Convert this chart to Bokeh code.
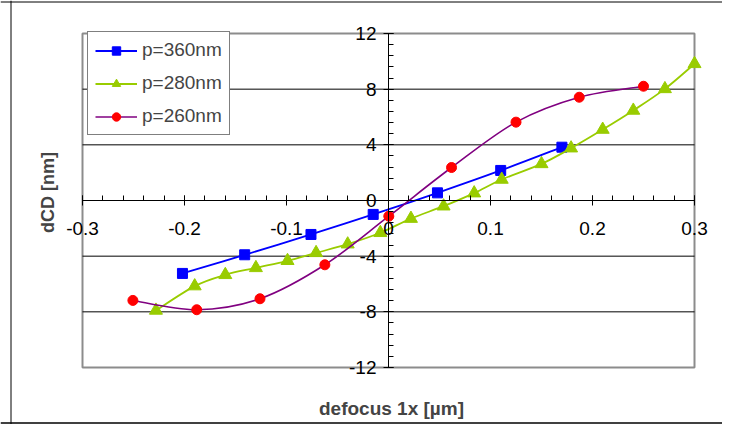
import numpy as np
from bokeh.plotting import figure
from bokeh.models import (Range1d, FixedTicker, Label, Legend, LegendItem, ColumnDataSource, Span)
from bokeh.embed import file_html
from bokeh.resources import INLINE

# ---- data ----
x360 = [-0.202, -0.141, -0.076, -0.015, 0.048, 0.110, 0.170]
y360 = [-5.24, -3.9, -2.44, -1.0, 0.55, 2.16, 3.83]

x280 = [-0.228, -0.190, -0.160, -0.130, -0.099, -0.071, -0.040, -0.008, 0.022,
        0.054, 0.084, 0.111, 0.150, 0.179, 0.210, 0.240, 0.271, 0.300]
y280 = [-7.9, -6.15, -5.34, -4.84, -4.33, -3.76, -3.14, -2.32, -1.3,
        -0.41, 0.53, 1.51, 2.63, 3.76, 5.1, 6.47, 8.02, 9.82]

x260 = [-0.2506, -0.188, -0.126, -0.0624, 0.0003, 0.0618, 0.125, 0.187, 0.250]
y260 = [-7.18, -7.85, -7.06, -4.62, -1.13, 2.37, 5.63, 7.42, 8.21]

series_names = ["p=360nm", "p=280nm", "p=260nm"]

x_ticks = [-0.3, -0.2, -0.1, 0, 0.1, 0.2, 0.3]
x_tick_labels = ["-0.3", "-0.2", "-0.1", "0", "0.1", "0.2", "0.3"]
y_ticks = [-12, -8, -4, 0, 4, 8, 12]
y_tick_labels = ["-12", "-8", "-4", "0", "4", "8", "12"]
x_minor = [round(-0.3 + 0.02 * i, 2) for i in range(31)]
y_minor = [round(-12 + 0.8 * i, 1) for i in range(31)]

FONT = "Liberation Sans"

# ---- layout: the frame fills the whole canvas; plot area is drawn inside ----
W, H = 722, 424
PA_LEFT, PA_RIGHT, PA_TOP, PA_BOTTOM = 82, 694, 33, 367   # plot-area edges in canvas px
xmin, xmax = x_ticks[0], x_ticks[-1]
ymin, ymax = y_ticks[0], y_ticks[-1]
kx = (xmax - xmin) / (PA_RIGHT - PA_LEFT)
ky = (ymax - ymin) / (PA_BOTTOM - PA_TOP)
x_range = Range1d(xmin - PA_LEFT * kx, xmax + (W - PA_RIGHT) * kx)
y_range = Range1d(ymin - (H - PA_BOTTOM) * ky, ymax + PA_TOP * ky)


def cx(px):
    return x_range.start + px * kx


def cy(py):
    return y_range.end - py * ky


def smooth_segments(xs, ys):
    """Bezier control points (Catmull-Rom style, as Excel's smoothed lines)."""
    xs = np.asarray(xs, float)
    ys = np.asarray(ys, float)
    n = len(xs)
    d = dict(x0=[], y0=[], x1=[], y1=[], cx0=[], cy0=[], cx1=[], cy1=[])
    for i in range(n - 1):
        p0 = i - 1 if i > 0 else i
        p3 = i + 2 if i + 2 < n else i + 1
        d["x0"].append(xs[i]); d["y0"].append(ys[i])
        d["x1"].append(xs[i + 1]); d["y1"].append(ys[i + 1])
        d["cx0"].append(xs[i] + (xs[i + 1] - xs[p0]) / 6.0)
        d["cy0"].append(ys[i] + (ys[i + 1] - ys[p0]) / 6.0)
        d["cx1"].append(xs[i + 1] - (xs[p3] - xs[i]) / 6.0)
        d["cy1"].append(ys[i + 1] - (ys[p3] - ys[i]) / 6.0)
    return ColumnDataSource(d)


p = figure(width=W, height=H, output_backend="svg", toolbar_location=None,
           x_range=x_range, y_range=y_range,
           min_border_left=0, min_border_right=0, min_border_top=0, min_border_bottom=0)
p.background_fill_color = "white"
p.border_fill_color = "white"
p.outline_line_color = None
p.xgrid.visible = False
p.ygrid.visible = False

# outer chart border (left, top, bottom)
p.add_layout(Span(location=cx(10.5), dimension="height", line_color="black", line_width=1))
p.add_layout(Span(location=cy(1.5), dimension="width", line_color="black", line_width=1))
p.add_layout(Span(location=cy(422.5), dimension="width", line_color="black", line_width=1.5))

# plot area border and horizontal gridlines
p.quad(left=xmin, right=xmax, bottom=ymin, top=ymax, fill_color=None,
       line_color="#8c8c8c", line_width=2)
grid_y = [t for t in y_ticks if t not in (ymin, 0, ymax)]
p.segment(x0=[xmin] * len(grid_y), x1=[xmax] * len(grid_y), y0=grid_y, y1=grid_y,
          line_color="black", line_width=1)

# axes crossing at the origin
for ax, ticks, labels, minor, bnds in ((p.xaxis[0], x_ticks, x_tick_labels, x_minor, (xmin, xmax)),
                                       (p.yaxis[0], y_ticks, y_tick_labels, y_minor, (ymin, ymax))):
    ax.fixed_location = 0
    ax.bounds = bnds
    ax.ticker = FixedTicker(ticks=ticks, minor_ticks=minor)
    ax.major_label_overrides = dict(zip(ticks, labels))
    ax.axis_line_color = "black"
    ax.major_tick_line_color = "black"
    ax.minor_tick_line_color = "black"
    ax.major_tick_in = 5
    ax.major_tick_out = 5
    ax.minor_tick_in = 5
    ax.minor_tick_out = 0
    ax.major_label_text_font = FONT
    ax.major_label_text_font_size = "19px"
    ax.major_label_text_color = "black"
p.xaxis[0].major_label_standoff = 16
p.yaxis[0].major_label_standoff = 7

styles = [
    (x360, y360, "#0000FF", "#0000FF", "square", 10, 1.8),
    (x280, y280, "#99CC00", "#99CC00", "triangle", 13, 1.8),
    (x260, y260, "#800080", "#FF0000", "circle", 10, 1.6),
]
items = []
for (xs, ys, lc, mc, marker, size, lw), name in zip(styles, series_names):
    src = smooth_segments(xs, ys)
    r_line = p.bezier(x0="x0", y0="y0", x1="x1", y1="y1", cx0="cx0", cy0="cy0",
                      cx1="cx1", cy1="cy1", source=src, line_color=lc, line_width=lw)
    r_pts = p.scatter(xs, ys, marker=marker, size=size, fill_color=mc, line_color=mc)
    items.append(LegendItem(label=name, renderers=[r_line, r_pts]))

LEG_H = 97
legend = Legend(items=items, location=(87, H - 38 - LEG_H), margin=0, padding=7, spacing=11,
                glyph_width=42, glyph_height=21, label_height=21, label_standoff=5,
                label_text_font=FONT, label_text_font_size="19px",
                border_line_color="black", border_line_width=1,
                background_fill_color="white", background_fill_alpha=1.0)
p.add_layout(legend, "center")

p.add_layout(Label(x=cx(391), y=cy(408), text="defocus 1x [µm]", text_align="center",
                   text_baseline="middle", text_font=FONT, text_font_size="19px",
                   text_font_style="bold"))
p.add_layout(Label(x=cx(47), y=cy(192), angle=90, angle_units="deg", text="dCD [nm]",
                   text_align="center", text_baseline="middle", text_font=FONT,
                   text_font_size="18px", text_font_style="bold"))

open("out.html", "w").write(file_html(p, INLINE))
